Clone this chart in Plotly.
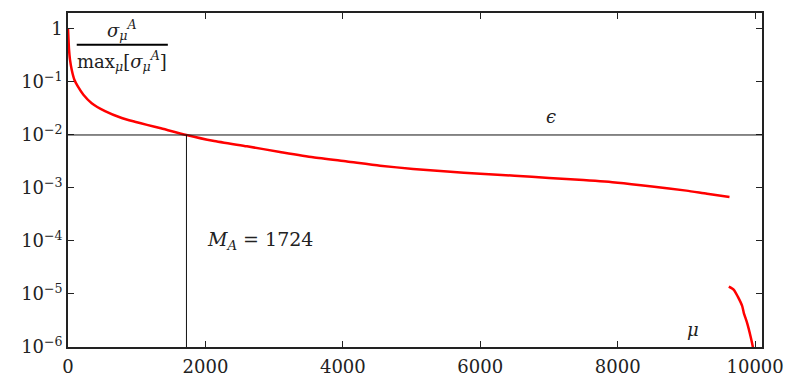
import math
import plotly.graph_objects as go

# Data
mu_seg1 = [0, 5, 15, 29, 54, 93, 141, 224, 345, 539, 782, 972, 1150, 1336, 1724,
           2108, 2604, 3085, 3566, 4061, 4542, 5023, 5518, 6000, 6500, 7000, 7500,
           8000, 8500, 9000, 9300, 9627]
sig_seg1 = [1.0, 0.75, 0.407, 0.263, 0.170, 0.110, 0.0832, 0.0575, 0.0398, 0.0282, 0.0209,
            0.0178, 0.0155, 0.0135, 0.0100, 0.00776, 0.00610, 0.00479, 0.00380, 0.00316,
            0.00263, 0.00229, 0.00204, 0.00186, 0.00170, 0.00155, 0.00141, 0.00126,
            0.00107, 0.000891, 0.000776, 0.000676]
mu_seg2 = [9617, 9690, 9748, 9812, 9835, 9885, 9933, 9967, 9990]
sig_seg2 = [1.38e-5, 1.20e-5, 8.9e-6, 5.9e-6, 4.4e-6, 2.8e-6, 1.6e-6, 1.0e-6, 6e-7]

epsilon = 1e-2
M_A = 1724

x_ticks = [0, 2000, 4000, 6000, 8000, 10000]
y_tickvals = [1, 1e-1, 1e-2, 1e-3, 1e-4, 1e-5, 1e-6]
y_ticktext = ["1", "10<sup>\u22121</sup>", "10<sup>\u22122</sup>", "10<sup>\u22123</sup>",
              "10<sup>\u22124</sup>", "10<sup>\u22125</sup>", "10<sup>\u22126</sup>"]

FONT = "DejaVu Serif"
TXT = "#222222"
RED = "#ff0000"
FS = 18

fig = go.Figure()
for xs, ys in [(mu_seg1, sig_seg1), (mu_seg2, sig_seg2)]:
    fig.add_trace(go.Scatter(x=xs, y=ys, mode="lines",
                             line=dict(color=RED, width=2.5, shape="spline", smoothing=0.6),
                             showlegend=False, hoverinfo="skip"))

le = math.log10(epsilon)
fig.add_shape(type="line", xref="paper", yref="y", x0=0, x1=1, y0=epsilon, y1=epsilon,
              line=dict(color="#111", width=1))
fig.add_shape(type="line", xref="x", yref="y", x0=M_A, x1=M_A, y0=1e-6, y1=epsilon,
              line=dict(color="#111", width=1))

# Fraction label
frac_y = 10 ** -0.296
fig.add_shape(type="line", xref="x", yref="y", x0=127, x1=1453, y0=frac_y, y1=frac_y,
              line=dict(color="#000", width=2))
fig.add_annotation(x=790, y=-0.296, xref="x", yref="y", yanchor="bottom", yshift=0,
                   text="<i>\u03c3</i><sub><i>\u03bc</i></sub><sup><i>A</i></sup>",
                   showarrow=False, font=dict(family=FONT, size=FS, color=TXT))
fig.add_annotation(x=790, y=-0.296, xref="x", yref="y", yanchor="top", yshift=-1,
                   text="max<sub><i>\u03bc</i></sub>[<i>\u03c3</i><sub><i>\u03bc</i></sub><sup><i>A</i></sup>]",
                   showarrow=False, font=dict(family=FONT, size=FS, color=TXT))

fig.add_annotation(x=7033, y=le, xref="x", yref="y", yanchor="bottom", yshift=6,
                   text="<i>\u03f5</i>", showarrow=False,
                   font=dict(family=FONT, size=FS, color=TXT))
fig.add_annotation(x=1990, y=-4, xref="x", yref="y", xanchor="left",
                   text="<i>M</i><sub><i>A</i></sub> = 1724", showarrow=False,
                   font=dict(family=FONT, size=19, color=TXT))
fig.add_annotation(x=9103, y=-5.67, xref="x", yref="y",
                   text="<i>\u03bc</i>", showarrow=False,
                   font=dict(family=FONT, size=FS, color=TXT))

fig.update_xaxes(range=[0, 10100], tickvals=x_ticks, ticktext=[str(v) for v in x_ticks],
                 ticks="inside", ticklen=6, tickwidth=1, tickcolor="#222",
                 showline=True, linecolor="#222", linewidth=1.5, mirror="ticks",
                 showgrid=False, zeroline=False, automargin=False,
                 ticklabelstandoff=3,
                 tickfont=dict(family=FONT, size=FS, color=TXT))
fig.update_yaxes(type="log", range=[-6, 0.301], tickvals=y_tickvals, ticktext=y_ticktext,
                 ticks="inside", ticklen=6, tickwidth=1, tickcolor="#222",
                 showline=True, linecolor="#222", linewidth=1.5, mirror="ticks",
                 showgrid=False, zeroline=False, automargin=False,
                 tickfont=dict(family=FONT, size=FS, color=TXT))

fig.update_layout(width=787, height=378, margin=dict(l=68, r=25, t=13, b=31),
                  plot_bgcolor="white", paper_bgcolor="white")

fig.write_html("out.html")
